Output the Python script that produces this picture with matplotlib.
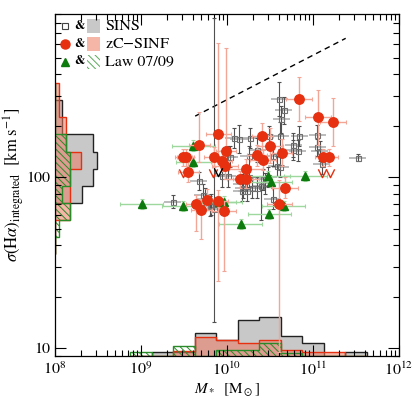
import numpy as np
import matplotlib
matplotlib.use("Agg")
import matplotlib.pyplot as plt
from matplotlib.path import Path
from matplotlib.transforms import blended_transform_factory as blend
from matplotlib.patches import Rectangle
from matplotlib.ticker import LogLocator, NullFormatter

plt.rcParams['font.family'] = ['STIXGeneral', 'DejaVu Serif']
plt.rcParams['mathtext.fontset'] = 'stix'
plt.rcParams['hatch.linewidth'] = 0.7

# ---------------- data ----------------
# zC-SINF (log M*, sigma km/s, yerr lo/hi in dex)
zc_logm = [9.49, 9.52, 9.55, 9.68, 9.90, 9.85, 9.99, 9.94, 9.98, 10.22, 10.15, 10.22,
           10.41, 10.50, 10.35, 10.42, 10.64, 10.84, 11.06, 11.23, 11.12, 11.19, 10.67,
           10.61, 9.64, 9.77, 9.89, 9.70, 9.96]
zc_sig = [131, 131, 107, 155, 179, 131, 143, 125, 117, 111, 97, 97,
          173, 153, 134, 126, 139, 286, 224, 210, 131, 131, 87,
          70, 70, 74, 73, 64, 63]
zc_elo = [0.05, 0.05, 0.06, 0.10, 0.15, 0.06, 0.10, 0.06, 0.08, 0.06, 0.05, 0.05,
          0.08, 0.10, 0.06, 0.06, 0.08, 0.13, 0.16, 0.14, 0.05, 0.05, 0.06,
          0.87, 0.16, 0.06, 0.47, 0.17, 0.35]
zc_ehi = [0.05, 0.05, 0.06, 0.19, 0.53, 0.06, 0.60, 0.06, 0.08, 0.06, 0.05, 0.05,
          0.08, 0.10, 0.06, 0.06, 0.08, 0.13, 0.16, 0.14, 0.05, 0.05, 0.06,
          0.14, 0.05, 0.06, 0.06, 0.06, 0.06]
zc_xerr = [0.10, 0.10, 0.12, 0.12, 0.15, 0.12, 0.12, 0.12, 0.15, 0.20, 0.15, 0.15,
           0.12, 0.15, 0.12, 0.15, 0.12, 0.15, 0.15, 0.15, 0.10, 0.10, 0.15,
           0.15, 0.12, 0.12, 0.12, 0.12, 0.15]
zc_lim_logm = [9.49, 9.84, 11.11, 11.20]
zc_lim_sig = [106, 106, 106, 106]
sins_lim_logm = [9.90]
sins_lim_sig = [107]

# SINS
sins_logm = [10.08, 10.27, 10.35, 10.03, 10.25, 10.53, 10.58, 10.62, 9.67, 9.94, 10.01,
             10.19, 10.23, 10.29, 10.35, 10.40, 10.44, 10.26, 9.37, 9.72, 9.74, 9.81,
             9.85, 10.53, 10.61, 10.66, 10.63, 10.62, 10.84, 10.77, 10.82, 10.77,
             11.05, 11.05, 11.08, 11.10, 11.52, 10.49, 10.42, 10.17, 10.17, 9.80,
             10.14, 10.00, 10.48]
sins_sig = [169, 170, 145, 132, 133, 133, 116, 115, 95, 101, 101,
            87, 83, 87, 87, 89, 92, 100, 72, 79, 75, 69,
            65, 75, 286, 246, 218, 175, 174, 154, 143, 144,
            177, 150, 142, 120, 130, 173, 97, 91, 83, 68,
            167, 132, 100]
sins_elo = [0.06, 0.06, 0.07, 0.06, 0.06, 0.06, 0.06, 0.06, 0.05, 0.06, 0.06,
            0.06, 0.06, 0.06, 0.06, 0.20, 0.06, 0.06, 0.04, 0.06, 0.06, 0.06,
            0.66, 0.06, 0.10, 0.08, 0.08, 0.08, 0.06, 0.07, 0.06, 0.06,
            0.06, 0.05, 0.06, 0.06, 0.02, 0.06, 0.06, 0.06, 0.06, 0.06,
            0.08, 0.06, 0.06]
sins_ehi = [0.06, 0.06, 0.07, 0.06, 0.06, 0.06, 0.06, 0.06, 0.05, 0.06, 0.06,
            0.06, 0.06, 0.06, 0.06, 0.06, 0.06, 0.06, 0.04, 0.06, 0.06, 0.06,
            1.12, 0.06, 0.10, 0.08, 0.08, 0.08, 0.06, 0.07, 0.06, 0.06,
            0.06, 0.05, 0.06, 0.06, 0.02, 0.06, 0.06, 0.06, 0.06, 0.06,
            0.08, 0.06, 0.06]
sins_xerr = 0.10

# Law 07/09
law_logm = [9.61, 9.61, 9.01, 9.49, 9.91, 9.97, 10.16, 10.48, 10.51, 10.91, 10.66, 10.49]
law_sig = [153, 123, 70, 68, 72, 72, 53, 102, 94, 102, 67.5, 61]
law_xerr = [0.25, 0.20, 0.25, 0.25, 0.20, 0.20, 0.25, 0.25, 0.25, 0.25, 0.25, 0.25]
law_ey = 0.03

# dashed relation (endpoints)
rel_logm = [9.63, 11.38]
rel_logsig = [2.357, 2.812]

# Histograms of sigma (left), log sigma bin edges, values in counts
sig_edges = [1.55, 1.65, 1.75, 1.85, 1.95, 2.05, 2.15, 2.25, 2.35, 2.45, 2.55]
sins_sig_hist = [0, 0, 0, 7.5, 10.5, 11.5, 10.5, 2, 2, 0]
zc_sig_hist = [0, 0, 4, 4, 4, 7, 3, 3, 1, 1]
law_sig_hist = [0, 1, 4, 2, 4, 4, 3, 0, 0, 0]

# Histograms of mass (bottom)
m_edges = [8.875, 9.125, 9.375, 9.625, 9.875, 10.125, 10.375, 10.625, 10.875, 11.125, 11.375, 11.625]
sins_m_hist = [0, 1, 1, 6.2, 4.5, 10, 10.8, 5.5, 3.6, 0, 1]
zc_m_hist = [0, 0, 1.3, 5.3, 4.4, 3.5, 4.4, 1.6, 1.1, 1.2, 0]
law_m_hist = [1, 0, 2.7, 0, 1.6, 1.6, 3.5, 0.9, 0, 0, 0]

# ---------------- style ----------------
RED = '#e63010'
RED_LIGHT = '#f3a596'
GREEN = '#0c7a0c'
GREEN_LIGHT = '#9ed89e'
GREY_HIST = '#c8c8c8'
SQ = '#707070'

fig = plt.figure(figsize=(4.15, 3.98), dpi=100)
ax = fig.add_axes([55/415, 1-356/398, 344/415, 342/398])
ax.set_xscale('log')
ax.set_yscale('log')
ax.set_xlim(1e8, 1e12)
ax.set_ylim(9, 900)

def yerr_lin(sig, lo, hi):
    sig = np.asarray(sig, float)
    lo = np.broadcast_to(np.asarray(lo, float), sig.shape)
    hi = np.broadcast_to(np.asarray(hi, float), sig.shape)
    return np.vstack([sig - sig*10**(-lo), sig*10**hi - sig])

def xerr_lin(logm, e):
    m = 10**np.asarray(logm, float)
    e = np.broadcast_to(np.asarray(e, float), m.shape)
    return np.vstack([m - m*10**(-e), m*10**e - m])

# histograms: left (x in axes fraction), bottom (y in axes fraction)
cnt_x = 3.65/344
cnt_y = 3.65/342
tl = blend(ax.transAxes, ax.transData)
tb = blend(ax.transData, ax.transAxes)
se = 10**np.array(sig_edges)
me = 10**np.array(m_edges)

def hist_left(vals, **kw):
    ax.stairs(np.array(vals)*cnt_x, se, orientation='horizontal', baseline=0,
              transform=tl, **kw)

def hist_bottom(vals, **kw):
    ax.stairs(np.array(vals)*cnt_y, me, baseline=0, transform=tb, **kw)

hist_left(sins_sig_hist, fill=True, facecolor=GREY_HIST, edgecolor='none', zorder=1)
hist_left(sins_sig_hist, fill=False, edgecolor='#222222', lw=1.0, zorder=1.1)
hist_left(zc_sig_hist, fill=True, facecolor='#ee7860', alpha=0.55, edgecolor='none', zorder=1.2)
hist_left(zc_sig_hist, fill=False, edgecolor=RED, lw=1.0, zorder=1.3)
hist_left(law_sig_hist, fill=False, hatch='\\\\\\\\\\', edgecolor='#2a8a2a', lw=1.0, zorder=1.4)

hist_bottom(sins_m_hist, fill=True, facecolor=GREY_HIST, edgecolor='none', zorder=1)
hist_bottom(sins_m_hist, fill=False, edgecolor='#222222', lw=1.0, zorder=1.1)
hist_bottom(zc_m_hist, fill=True, facecolor='#ee7860', alpha=0.55, edgecolor='none', zorder=1.2)
hist_bottom(zc_m_hist, fill=False, edgecolor=RED, lw=1.0, zorder=1.3)
hist_bottom(law_m_hist, fill=False, hatch='\\\\\\\\\\', edgecolor='#2a8a2a', lw=1.0, zorder=1.4)

# dashed relation
ax.plot(10**np.array(rel_logm), 10**np.array(rel_logsig), ls=(0, (4, 3)), color='black', lw=1.0, zorder=2)

# SINS points
sm = 10**np.array(sins_logm)
ax.errorbar(sm, sins_sig, xerr=xerr_lin(sins_logm, sins_xerr), fmt='none',
            ecolor='#b0b0b0', elinewidth=1.2, capsize=0, zorder=3)
ax.errorbar(sm, sins_sig, yerr=yerr_lin(sins_sig, sins_elo, sins_ehi), fmt='none',
            ecolor='#505050', elinewidth=0.8, capsize=1.5, capthick=0.8, zorder=3.1)
ax.plot(sm, sins_sig, 's', ms=3.6, mfc='none', mec=SQ, mew=0.8, zorder=3.2)

# Law points
lm = 10**np.array(law_logm)
ax.errorbar(lm, law_sig, xerr=xerr_lin(law_logm, law_xerr), yerr=yerr_lin(law_sig, law_ey, law_ey),
            fmt='none', ecolor=GREEN_LIGHT, elinewidth=1.0, capsize=1.5, capthick=0.8, zorder=4)
ax.plot(lm, law_sig, '^', ms=6, color=GREEN, mec=GREEN, zorder=4.2)

# zC-SINF points
zm = 10**np.array(zc_logm)
ax.errorbar(zm, zc_sig, xerr=xerr_lin(zc_logm, zc_xerr), yerr=yerr_lin(zc_sig, zc_elo, zc_ehi),
            fmt='none', ecolor=RED_LIGHT, elinewidth=1.0, capsize=1.5, capthick=0.8, zorder=5)
ax.plot(zm, zc_sig, 'o', ms=6.8, color=RED, mec=RED, zorder=5.2)

vmark = Path([(-1, 1), (0, -1), (1, 1)], [Path.MOVETO, Path.LINETO, Path.LINETO])
ax.plot(10**np.array(zc_lim_logm), zc_lim_sig, ls='none', marker=vmark, ms=6,
        mfc='none', mec=RED, mew=1.0, zorder=5.3)
ax.plot(10**np.array(sins_lim_logm), sins_lim_sig, ls='none', marker=vmark, ms=6,
        mfc='none', mec='black', mew=1.0, zorder=5.3)

# ticks
ax.xaxis.set_major_locator(LogLocator(base=10, numticks=10))
ax.xaxis.set_minor_locator(LogLocator(base=10, subs=np.arange(2, 10), numticks=50))
ax.yaxis.set_minor_formatter(NullFormatter())
ax.tick_params(which='both', direction='in', top=True, right=True, labelsize=11.5)
ax.tick_params(which='major', length=8, width=0.8)
ax.tick_params(which='minor', length=4, width=0.8)
ax.set_yticks([10, 100])
ax.set_yticklabels(['10', '100'])
for s in ax.spines.values():
    s.set_linewidth(0.9)

ax.set_xlabel(r'$M_*\ \ [\mathrm{M}_\odot]$', fontsize=11, labelpad=2)
ax.set_ylabel(r'$\sigma(\mathrm{H}\alpha)_{\mathrm{integrated}}\ \ [\mathrm{km\ s}^{-1}]$', fontsize=12, labelpad=0)

# legend (manual)
rows_y = [26, 43.7, 61.5]
def fy(py):
    return 1 - (py - 14)/342
def fx(px):
    return (px - 55)/344
ax.plot([fx(65)], [fy(rows_y[0])], 's', ms=5, mfc='none', mec='#444444', mew=0.8, transform=ax.transAxes, clip_on=False)
ax.plot([fx(65)], [fy(rows_y[1])], 'o', ms=6.5, color=RED, transform=ax.transAxes)
ax.plot([fx(65)], [fy(rows_y[2])], '^', ms=5.5, color=GREEN, transform=ax.transAxes)
for ry in rows_y:
    ax.text(fx(79), fy(ry), '&', fontsize=9, fontweight='bold', ha='center', va='center', transform=ax.transAxes)
pw, ph = 13/344, 14/342
ax.add_patch(Rectangle((fx(87), fy(rows_y[0]) - ph/2), pw, ph, transform=ax.transAxes, facecolor=GREY_HIST, edgecolor='none'))
ax.add_patch(Rectangle((fx(87), fy(rows_y[1]) - ph/2), pw, ph, transform=ax.transAxes, facecolor='#ee7860', alpha=0.55, edgecolor='none'))
ax.add_patch(Rectangle((fx(87), fy(rows_y[2]) - ph/2), pw, ph, transform=ax.transAxes, facecolor='none', hatch='\\\\\\\\\\', edgecolor='#5aaa5a', lw=0))
for ry, t in zip(rows_y, ['SINS', 'zC$-$SINF', 'Law 07/09']):
    ax.text(fx(105), fy(ry), t, fontsize=11.5, ha='left', va='center', transform=ax.transAxes)

fig.savefig('out.png', dpi=100)
